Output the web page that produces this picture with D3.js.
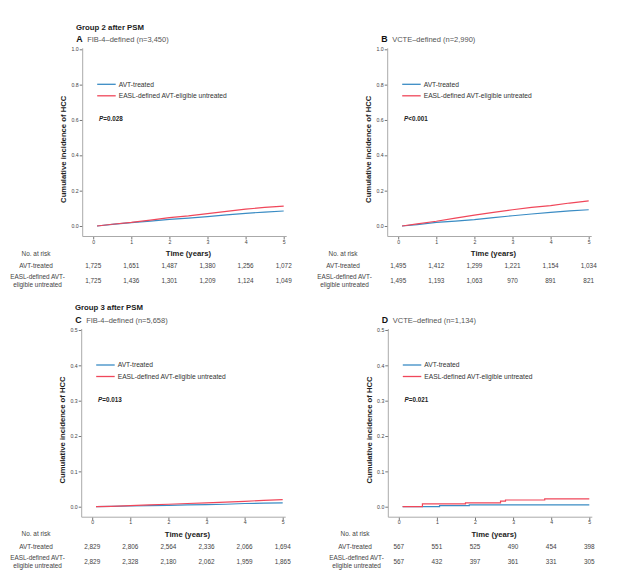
<!DOCTYPE html>
<html>
<head>
<meta charset="utf-8">
<script src="https://cdn.jsdelivr.net/npm/d3@7"></script>
<style>
  body { margin: 0; background: #fff; }
  text { font-family: "Liberation Sans", Arial, sans-serif; }
</style>
</head>
<body>
<div id="chart"></div>
<script>
// Chart values
const years = [0.1, 0.5, 1, 1.5, 2, 2.5, 3, 3.5, 4, 4.5, 5];
const riskYears = [0, 1, 2, 3, 4, 5];

const aAvt  = [0, 0.009, 0.019, 0.028, 0.037, 0.045, 0.053, 0.063, 0.072, 0.079, 0.085];
const aEasl = [0, 0.010, 0.020, 0.033, 0.047, 0.057, 0.070, 0.083, 0.095, 0.105, 0.113];
const bAvt  = [0, 0.008, 0.020, 0.028, 0.036, 0.047, 0.058, 0.068, 0.077, 0.086, 0.092];
const bEasl = [0, 0.012, 0.027, 0.045, 0.062, 0.077, 0.092, 0.105, 0.115, 0.130, 0.142];
const cAvt  = [0, 0.001, 0.002, 0.003, 0.004, 0.005, 0.006, 0.007, 0.009, 0.010, 0.011];
const cEasl = [0, 0.001, 0.003, 0.005, 0.007, 0.009, 0.011, 0.013, 0.015, 0.018, 0.020];

// panel D is a visible step curve
const dAvtTimes  = [0.1, 1.07, 1.85, 5];
const dAvt       = [0, 0.003, 0.005, 0.005];
const dEaslTimes = [0.1, 0.62, 1.75, 2.67, 2.8, 3.83, 5];
const dEasl      = [0, 0.008, 0.011, 0.016, 0.019, 0.022, 0.022];

const aRiskAvt  = [1725, 1651, 1487, 1380, 1256, 1072];
const aRiskEasl = [1725, 1436, 1301, 1209, 1124, 1049];
const bRiskAvt  = [1495, 1412, 1299, 1221, 1154, 1034];
const bRiskEasl = [1495, 1193, 1063, 970, 891, 821];
const cRiskAvt  = [2829, 2806, 2564, 2336, 2066, 1694];
const cRiskEasl = [2829, 2328, 2180, 2062, 1959, 1865];
const dRiskAvt  = [567, 551, 525, 490, 454, 398];
const dRiskEasl = [567, 432, 397, 361, 331, 305];

const ticksFull = [0, 0.2, 0.4, 0.6, 0.8, 1.0];
const ticksHalf = [0, 0.1, 0.2, 0.3, 0.4, 0.5];

const seriesNames = ["AVT-treated", "EASL-defined AVT-eligible untreated"];
const colors = ["#3a8cc4", "#f0475a"];

const groupTitles = [
  { text: "Group 2 after PSM", x: 76, y: 29.5 },
  { text: "Group 3 after PSM", x: 75, y: 309.5 }
];

const panels = [
  { letter: "A", sub: "FIB-4\u2013defined (n=3,450)", left: 82.7, top: 49.3, yMax: 1, yTicks: ticksFull,
    p: "=0.028", labelX: 36, step: false,
    series: [{ t: years, v: aAvt }, { t: years, v: aEasl }], risk: [aRiskAvt, aRiskEasl] },
  { letter: "B", sub: "VCTE\u2013defined (n=2,990)", left: 387.7, top: 49.3, yMax: 1, yTicks: ticksFull,
    p: "<0.001", labelX: 343, step: false,
    series: [{ t: years, v: bAvt }, { t: years, v: bEasl }], risk: [bRiskAvt, bRiskEasl] },
  { letter: "C", sub: "FIB-4\u2013defined (n=5,658)", left: 81.7, top: 330, yMax: 0.5, yTicks: ticksHalf,
    p: "=0.013", labelX: 36, step: false,
    series: [{ t: years, v: cAvt }, { t: years, v: cEasl }], risk: [cRiskAvt, cRiskEasl] },
  { letter: "D", sub: "VCTE\u2013defined (n=1,134)", left: 388.3, top: 330, yMax: 0.5, yTicks: ticksHalf,
    p: "=0.021", labelX: 355, step: true,
    series: [{ t: dAvtTimes, v: dAvt }, { t: dEaslTimes, v: dEasl }], risk: [dRiskAvt, dRiskEasl] }
];

const width = 625, height = 588;
const plotH = 176.7;

const svg = d3.select("#chart").append("svg")
  .attr("width", width)
  .attr("height", height)
  .style("background", "#fff");

groupTitles.forEach(g => {
  svg.append("text")
    .attr("x", g.x).attr("y", g.y)
    .attr("font-size", 7.8).attr("font-weight", "bold").attr("fill", "#222")
    .text(g.text);
});

const fmtNum = d3.format(",");

panels.forEach(pn => {
  const g = svg.append("g");
  const x = d3.scaleLinear().domain([0, 5]).range([pn.left + 10.5, pn.left + 201]);
  const y = d3.scaleLinear().domain([0, pn.yMax]).range([pn.top + plotH, pn.top]);
  const xAxisY = y(0) + 10.5;

  // panel letter + subtitle
  g.append("text")
    .attr("x", pn.left - 6.5).attr("y", pn.top - 7)
    .attr("font-size", 8.8).attr("font-weight", "bold").attr("fill", "#111")
    .text(pn.letter);
  g.append("text")
    .attr("x", pn.left + 4.5).attr("y", pn.top - 7.3)
    .attr("font-size", 7.5).attr("fill", "#555")
    .text(pn.sub);

  // y axis
  const yAxis = g.append("g")
    .attr("transform", `translate(${pn.left},0)`)
    .call(d3.axisLeft(y).tickValues(pn.yTicks).tickSize(3).tickPadding(1).tickFormat(d3.format(".1f")));
  yAxis.select(".domain").remove();
  yAxis.selectAll(".tick line").attr("stroke", "#777");
  yAxis.selectAll(".tick text").attr("font-size", 5.2).attr("fill", "#444")
    .attr("font-family", "Liberation Sans, Arial, sans-serif");
  g.append("line")
    .attr("x1", pn.left).attr("x2", pn.left)
    .attr("y1", pn.top - 1).attr("y2", xAxisY)
    .attr("stroke", "#aaa").attr("stroke-width", 1);

  // x axis
  const xAxis = g.append("g")
    .attr("transform", `translate(0,${xAxisY})`)
    .call(d3.axisBottom(x).tickValues(riskYears).tickSize(3).tickPadding(0.5).tickFormat(d3.format("d")));
  xAxis.select(".domain").remove();
  xAxis.selectAll(".tick line").attr("stroke", "#777");
  xAxis.selectAll(".tick text").attr("font-size", 5.2).attr("fill", "#444")
    .attr("font-family", "Liberation Sans, Arial, sans-serif");
  g.append("line")
    .attr("x1", pn.left).attr("x2", x(5) + 3)
    .attr("y1", xAxisY).attr("y2", xAxisY)
    .attr("stroke", "#aaa").attr("stroke-width", 1);

  g.append("text")
    .attr("x", (x(0) + x(5)) / 2).attr("y", xAxisY + 19.6)
    .attr("text-anchor", "middle")
    .attr("font-size", 7.7).attr("font-weight", "bold").attr("fill", "#222")
    .text("Time (years)");

  // y label
  g.append("text")
    .attr("transform", `translate(${pn.left - 16.8},${pn.top + 100}) rotate(-90)`)
    .attr("text-anchor", "middle")
    .attr("font-size", 7.7).attr("font-weight", "bold").attr("fill", "#222")
    .text("Cumulative incidence of HCC");

  // curves
  const line = d3.line()
    .x(d => x(d[0])).y(d => y(d[1]))
    .curve(pn.step ? d3.curveStepAfter : d3.curveLinear);
  pn.series.forEach((s, i) => {
    g.append("path")
      .datum(s.t.map((t, j) => [t, s.v[j]]))
      .attr("d", line)
      .attr("fill", "none")
      .attr("stroke", colors[i])
      .attr("stroke-width", 1.2);
  });

  // legend
  seriesNames.forEach((name, i) => {
    const ly = pn.top + 35 + i * 11.5;
    g.append("line")
      .attr("x1", pn.left + 14.5).attr("x2", pn.left + 33)
      .attr("y1", ly).attr("y2", ly)
      .attr("stroke", colors[i]).attr("stroke-width", 1.3);
    g.append("text")
      .attr("x", pn.left + 36).attr("y", ly + 2.3)
      .attr("font-size", 6.7).attr("fill", "#333")
      .text(name);
  });

  // p value
  const pt = g.append("text")
    .attr("x", pn.left + 16.3).attr("y", pn.top + 71.8)
    .attr("font-size", 6.3).attr("font-weight", "bold").attr("fill", "#222");
  pt.append("tspan").attr("font-style", "italic").text("P");
  pt.append("tspan").text(pn.p);

  // risk table
  const rowY = [xAxisY + 31.7, xAxisY + 44.8];
  g.append("text")
    .attr("x", pn.labelX).attr("y", xAxisY + 19.2)
    .attr("text-anchor", "middle").attr("font-size", 6.4).attr("fill", "#444")
    .text("No. at risk");
  g.append("text")
    .attr("x", pn.labelX).attr("y", rowY[0])
    .attr("text-anchor", "middle").attr("font-size", 6.4).attr("fill", "#444")
    .text("AVT-treated");
  g.append("text")
    .attr("x", pn.labelX + 1.5).attr("y", rowY[1] - 2.2)
    .attr("text-anchor", "middle").attr("font-size", 6.4).attr("fill", "#444")
    .text("EASL-defined AVT-");
  g.append("text")
    .attr("x", pn.labelX + 1.5).attr("y", rowY[1] + 5.6)
    .attr("text-anchor", "middle").attr("font-size", 6.4).attr("fill", "#444")
    .text("eligible untreated");

  pn.risk.forEach((row, r) => {
    g.selectAll(null)
      .data(row)
      .enter()
      .append("text")
      .attr("x", (d, j) => x(riskYears[j]))
      .attr("y", rowY[r] + (r === 1 ? 1.7 : 0))
      .attr("text-anchor", "middle")
      .attr("font-size", 6.4).attr("fill", "#444")
      .text(d => fmtNum(d));
  });
});
</script>
</body>
</html>
